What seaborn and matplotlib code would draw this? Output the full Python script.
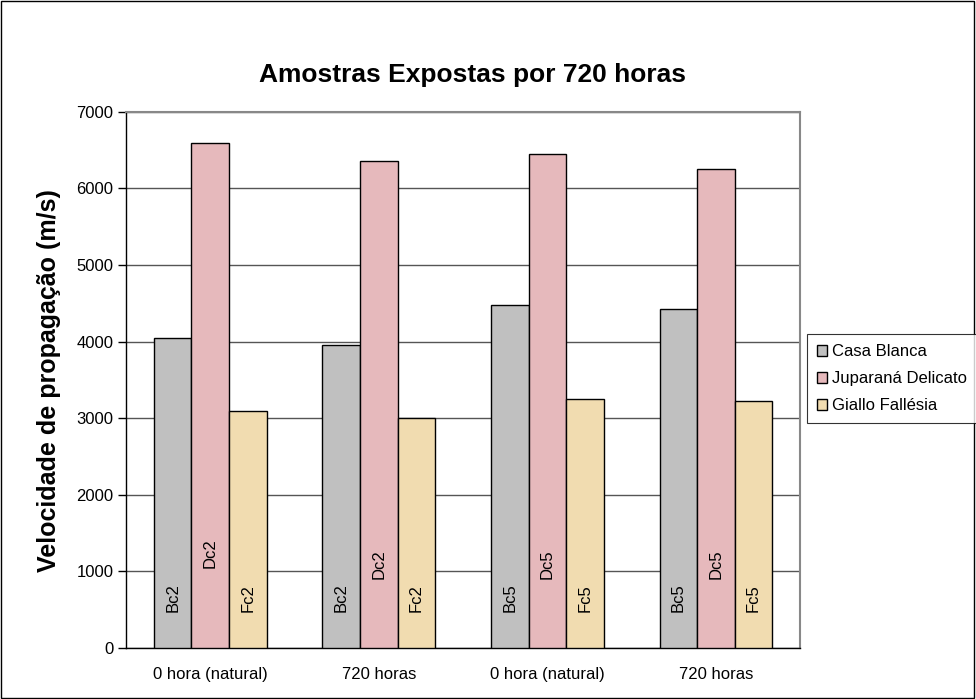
import pandas as pd
import numpy as np
import matplotlib.pyplot as plt
from matplotlib.patches import Rectangle
import seaborn as sns

grupos = ["0 hora (natural)", "720 horas", "0 hora (natural)", "720 horas"]
rochas = ["Casa Blanca", "Juparaná Delicato", "Giallo Fallésia"]
casa_blanca = [4050, 3950, 4480, 4420]
juparana = [6590, 6360, 6450, 6260]
giallo = [3090, 3000, 3250, 3230]
rotulos_bc = ["Bc2", "Bc2", "Bc5", "Bc5"]
rotulos_dc = ["Dc2", "Dc2", "Dc5", "Dc5"]
rotulos_fc = ["Fc2", "Fc2", "Fc5", "Fc5"]

df = pd.DataFrame({
    "grupo": [f"g{i}" for i in range(4)] * 3,
    "rocha": np.repeat(rochas, 4),
    "vel": casa_blanca + juparana + giallo,
})

sns.set_style("white")
plt.rcParams["font.family"] = ["Liberation Sans", "DejaVu Sans"]
plt.rcParams["text.color"] = "black"
plt.rcParams["xtick.color"] = "black"
plt.rcParams["ytick.color"] = "black"
plt.rcParams["axes.labelcolor"] = "black"

fig = plt.figure(figsize=(9.76, 6.99), dpi=100)
ax = fig.add_axes([0.129, 0.073, 0.691, 0.767])

cores = ["#C0C0C0", "#E6B9BC", "#F1DCB0"]
sns.barplot(df, x="grupo", y="vel", hue="rocha", palette=cores, width=0.668,
            edgecolor="black", linewidth=1, saturation=1, ax=ax, zorder=3)

ax.set_ylim(0, 7000)
ax.set_xlim(-0.5, 3.5)
ax.set_yticks(range(0, 7001, 1000))
ax.yaxis.grid(True, color="#555555", linewidth=1, zorder=0)
ax.set_axisbelow(True)
ax.set_xticks(range(4))
ax.set_xticklabels(grupos, fontsize=12)
ax.set_xticks(np.arange(-0.5, 4, 1), minor=True)
ax.tick_params(axis="x", which="major", length=0, pad=14)
ax.tick_params(axis="x", which="minor", length=5, width=1, color="black", direction="out")
ax.tick_params(axis="y", length=6, width=1, color="black", direction="out", labelsize=12,
               left=True, pad=3)
ax.set_xlabel("")
ax.set_ylabel("")
for s in ["left", "bottom"]:
    ax.spines[s].set_color("black")
    ax.spines[s].set_linewidth(1)
for s in ["top", "right"]:
    ax.spines[s].set_color("#888888")
    ax.spines[s].set_linewidth(1.5)

# rótulos dentro das barras
bw = 0.668 / 3
for i in range(4):
    ax.text(i - bw, 470, rotulos_bc[i], rotation=90, ha="center", va="bottom", fontsize=12, zorder=5)
    ax.text(i, 1040 if i == 0 else 900, rotulos_dc[i], rotation=90, ha="center", va="bottom", fontsize=12, zorder=5)
    ax.text(i + bw, 470, rotulos_fc[i], rotation=90, ha="center", va="bottom", fontsize=12, zorder=5)

handles, labels = ax.get_legend_handles_labels()
ax.get_legend().remove()
leg = fig.legend(handles, labels, loc="upper left", bbox_to_anchor=(0.827, 0.522),
                 fontsize=12, frameon=True, fancybox=False, edgecolor="black",
                 handlelength=0.6, handleheight=0.6, handletextpad=0.3,
                 borderpad=0.6, labelspacing=0.72, borderaxespad=0)
leg.get_frame().set_linewidth(0.8)

fig.text(0.0505, 0.455, "Velocidade de propagação (m/s)", rotation=90, ha="center", va="center",
         fontsize=18, fontweight="bold")
fig.text(0.484, 0.893, "Amostras Expostas por 720 horas", ha="center", va="center",
         fontsize=19, fontweight="bold")

fig.patches.append(Rectangle((0.001, 0.001), 0.997, 0.997, transform=fig.transFigure,
                             fill=False, edgecolor="black", linewidth=1))

fig.savefig("out.png", dpi=100)
